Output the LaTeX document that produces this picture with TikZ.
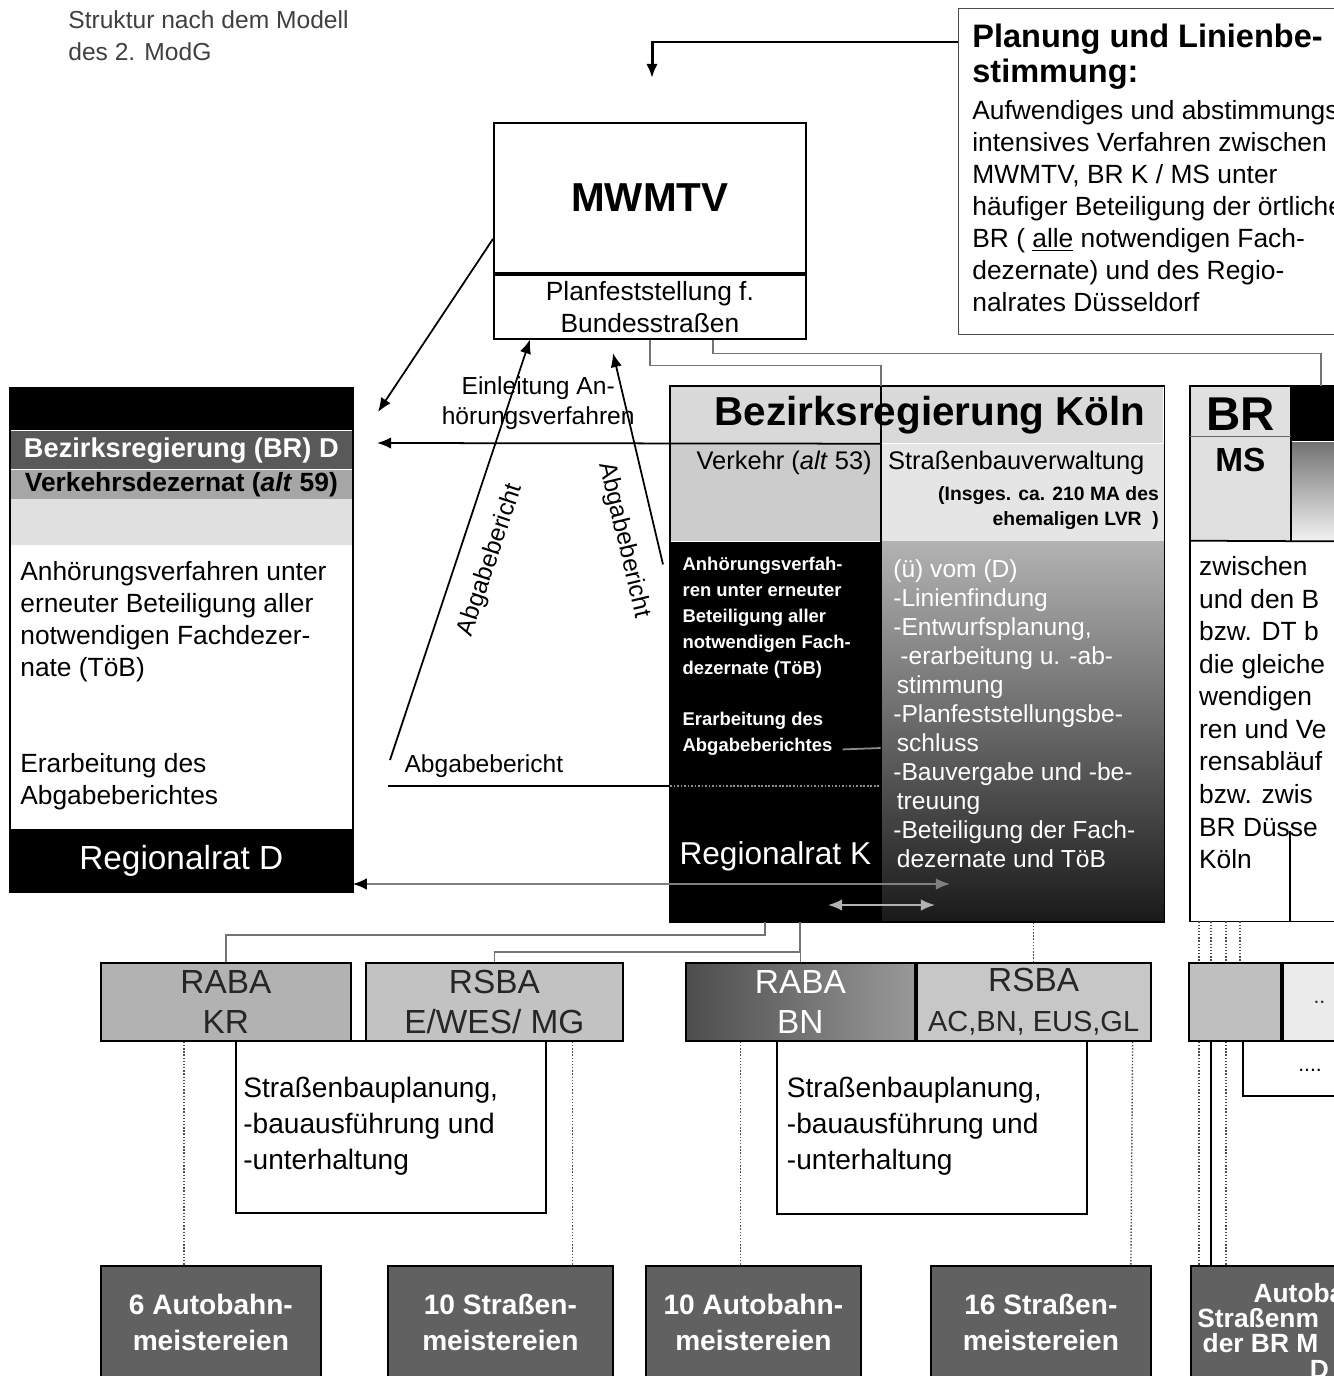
\documentclass[tikz,border=0pt]{standalone}
\usepackage{fontspec}
\setmainfont{Liberation Sans}
\usetikzlibrary{arrows.meta}
\usetikzlibrary{positioning}
\usetikzlibrary{calc}

\newcommand{\fsz}[2]{\fontsize{#1}{#2}\selectfont}

\begin{document}
\begin{tikzpicture}
    [x=0.02cm, y=-0.02cm,
     sz/.style 2 args={minimum width=#1*0.02cm, minimum height=#2*0.02cm},
     box/.style={rectangle, draw=black, line width=1pt, inner sep=0pt, anchor=north west},
     band/.style={rectangle, inner sep=0pt, anchor=north west},
     txt/.style={inner sep=0pt, anchor=north west, align=left},
     amt/.style={box, text=black!85, font=\fsz{19}{22.7}, align=center},
     mst/.style={box, fill=black!62, text=white, font=\bfseries\fsz{16}{20}, align=center},
     feed/.style={draw=black!55, line width=1pt},
     dot/.style={draw=black!70, densely dotted, line width=.8pt},
     flow/.style={line width=1pt, -{Latex[length=8pt, width=6.5pt]}},
     dbl/.style={line width=1pt, draw=black!50, {Latex[length=8pt, width=6.5pt]}-{Latex[length=8pt, width=6.5pt]}}]

    \useasboundingbox (0,0) rectangle (1334,1376);
    \clip (0,0) rectangle (1334,1376);

    \node[txt, text=black!75, font=\fsz{14}{18.2}] (modell) at (68,10) {Struktur nach dem Modell\\des 2. ModG};

    % ministry
    \node[box, sz={312}{150}, font=\bfseries\fsz{23}{26}] (mwmtv) at (493,122) {MWMTV};
    \node[box, sz={312}{64}, below=0pt of mwmtv, font=\fsz{15}{18.2}, align=center] (pfst) {Planfeststellung f.\\Bundesstraßen};

    % planning note
    \node[box, draw=black!70, line width=.6pt, sz={390}{326}] (plan) at (958,8) {};
    \node[txt, font=\bfseries\fsz{18.5}{19.5}] (planhd) at (972,24) {Planung und Linienbe-\\stimmung:};
    \node[txt, font=\fsz{15}{18.2}, below=6pt of planhd.south west, anchor=north west] (planbd)
        {Aufwendiges und abstimmungs-\\intensives Verfahren zwischen\\MWMTV, BR K / MS unter\\häufiger Beteiligung der örtlichen\\BR ( \underline{alle} notwendigen Fach-\\dezernate) und des Regio-\\nalrates Düsseldorf};
    \coordinate (mwtip) at (652,78);
    \draw[flow, line width=1.7pt] ($(plan.north west)+(0,34)$) -| (mwtip);

    % BR Duesseldorf
    \node[band, fill=black, sz={342}{42}] (bdtop) at (10,388) {};
    \node[band, fill=black!65, text=white, sz={342}{38}, below=0pt of bdtop, font=\bfseries\fsz{15.5}{18}] (bdhd) {Bezirksregierung (BR) D};
    \node[band, fill=black!35, sz={342}{29}, below=0pt of bdhd, font=\bfseries\fsz{15}{18}] (bdvk) {Verkehrsdezernat (\textit{alt} 59)};
    \node[band, fill=black!12, sz={342}{46}, below=0pt of bdvk] (bdlt) {};
    \node[band, sz={342}{282}, below=0pt of bdlt] (bdbody) {};
    \node[band, fill=black, text=white, sz={342}{63}, below=0pt of bdbody, font=\fsz{19}{22}] (rgd) {Regionalrat D};
    \draw[line width=1pt] (bdtop.north west) rectangle (rgd.south east);
    \node[txt, font=\fsz{15}{18.2}] (bdtxt) at (20,561) {Anhörungsverfahren unter\\erneuter Beteiligung aller\\notwendigen Fachdezer-\\nate (TöB)\\[36.4pt]Erarbeitung des\\Abgabeberichtes};

    % BR Koeln
    \node[band, fill=black!15, sz={493}{57}, font=\bfseries\fsz{23}{26}] (brk) at (670,386) {\hspace*{15pt}Bezirksregierung Köln};
    \node[band, fill=black!20, sz={210}{97}, below=0pt of brk.south west, anchor=north west] (vk) {};
    \node[band, fill=black!10, sz={283}{97}, right=0pt of vk] (sbv) {};
    \node[band, fill=black, sz={210}{380}, below=0pt of vk] (anh) {};
    \node[band, top color=black!30, bottom color=black!90, sz={283}{380}, below=0pt of sbv] (aufg) {};
    \draw[line width=1pt] (brk.north west) rectangle (aufg.south east);
    \node[txt, font=\fsz{14.5}{17}, below=4pt of vk.north, anchor=north, xshift=5pt] (vktxt) {Verkehr (\textit{alt} 53)};
    \node[txt, font=\fsz{14.5}{17}, below right=4pt and 4pt of sbv.north west] (sbvtxt) {Straßenbauverwaltung};
    \node[txt, font=\bfseries\fsz{11}{14.2}, align=right, below left=24pt and 3pt of sbv.north east, anchor=north east] (lvr) {(Insges. ca. 210 MA des\\ehemaligen LVR~~)};
    \node[txt, text=white, font=\bfseries\fsz{10.5}{14.7}, below right=9pt and 7pt of anh.north west] (anhtxt)
        {Anhörungsverfah-\\ren unter erneuter\\Beteiligung aller\\notwendigen Fach-\\dezernate (TöB)\\[14.7pt]Erarbeitung des\\Abgabeberichtes};
    \node[txt, text=white, font=\fsz{18}{21}, above=29pt of anh.south, anchor=south] (rgk) {Regionalrat K};
    \node[txt, text=white, font=\fsz{14}{16.5}, below right=10pt and 7pt of aufg.north west] (aufgtxt)
        {(ü) vom (D)\\-Linienfindung\\-Entwurfsplanung,\\\hspace*{4pt}-erarbeitung u. -ab-\\\hspace*{2pt}stimmung\\-Planfeststellungsbe-\\\hspace*{2pt}schluss\\-Bauvergabe und -be-\\\hspace*{2pt}treuung\\-Beteiligung der Fach-\\\hspace*{2pt}dezernate und TöB};
    \draw[line width=1pt] (brk.north -| vk.east) -- (anh.south east);

    % BR Muenster
    \node[band, fill=black!12, sz={100}{154}] (brms) at (1190,386) {};
    \node[band, fill=black, sz={60}{55}, right=0pt of brms.north east, anchor=north west] (msblk) {};
    \node[band, top color=black!55, bottom color=black!5, sz={60}{99}, below=0pt of msblk] (msshd) {};
    \node[band, sz={160}{380}, below=0pt of brms.south west, anchor=north west] (msbody) {};
    \draw[line width=1pt] (brms.north west) rectangle (msbody.south east);
    \draw[line width=1pt] (brms.north east) -- (brms.south east);
    \draw[line width=1pt] (brms.south west) -- (msshd.south east);
    \node[font=\bfseries\fsz{27}{30}, below=3pt of brms.north] (brtxt) {BR};
    \node[font=\bfseries\fsz{19}{22}, below=3pt of brtxt] (mstxt) {MS};
    \draw[draw=black!60, line width=.6pt] (brms.west |- brtxt.south) -- (brms.east |- brtxt.south);
    \node[txt, font=\fsz{15}{18.5}, below right=9pt and 5pt of msbody.north west] (msbdtxt)
        {zwischen\\und den B\\bzw. DT b\\die gleiche\\wendigen\\ren und Ve\\rensabläuf\\bzw. zwis\\BR Düsse\\Köln};
    \draw[line width=1pt] ($(msbody.south west)+(100,0)$) -- ++(0,-90);

    % connectors from the ministry
    \draw[feed] (pfst.south) -- ++(0,26) -| (brk.north -| vk.east);
    \draw[feed] ($(pfst.south)+(63,0)$) -- ++(0,14) -| (msblk.north);
    \coordinate (bdin) at (378,412);
    \draw[flow] ($(mwmtv.west)+(0,41)$) -- (bdin);
    \coordinate (bdhear) at (377,443);
    \draw[flow] (vk.north east) -- node[pos=.68, above=4pt, font=\fsz{14}{17}, align=center] (einl) {Einleitung An-\\hörungsverfahren} (bdhear);
    \coordinate (abgl) at (390,760);
    \draw[flow] (abgl) -- node[sloped, pos=.5, below=8pt, font=\fsz{14}{17}] (abg1) {Abgabebericht} ($(pfst.south west)+(37,0)$);
    \coordinate (pfup) at (613,353);
    \draw[flow] ($(anh.north west)+(-7,23)$) -- node[sloped, pos=.15, below=8pt, font=\fsz{14}{17}] (abg2) {Abgabebericht} (pfup);
    \coordinate (abgh) at (388,786);
    \draw[line width=1pt] (abgh) -- node[pos=.34, above=1pt, font=\fsz{14}{17}] (abg3) {Abgabebericht} (abgh -| anh.west);
    \draw[draw=black!45, densely dotted, line width=1pt] (abgh -| anh.west) -- (abgh -| anh.east);
    \draw[draw=black!45, line width=1pt] ($(anh.north east)+(-38,208)$) -- (anh.east |- 0,748);
    \coordinate (rowk) at (950,884);
    \draw[dbl, {Latex[length=8pt, width=6.5pt, black]}-{Latex[length=8pt, width=6.5pt]}] (rgd.east |- rowk) -- (rowk);
    \coordinate (sa) at (828,905);
    \coordinate (sb) at (935,905);
    \draw[dbl, draw=black!30] (sa) -- (sb);

    % road construction offices
    \node[amt, sz={250}{78}, fill=black!30] (rabakr) at (100,962) {RABA\\KR};
    \node[amt, sz={257}{78}, fill=black!24] (rsbae) at (365,962) {RSBA\\E/WES/ MG};
    \node[amt, sz={229}{78}, left color=black!70, right color=black!40, text=white] (rababn) at (685,962) {RABA\\BN};
    \node[amt, sz={234}{78}, fill=black!22, right=0pt of rababn] (rsbaac) {RSBA\\{\fsz{16.5}{19}AC,BN, EUS,GL}};
    \node[amt, sz={92}{78}, fill=black!25] (rabams) at (1188,962) {};
    \node[amt, sz={70}{78}, fill=black!8, right=0pt of rabams, font=\fsz{12}{14}] (rsbams) {\,..};

    \draw[feed] ($(anh.south)+(-10,0)$) -- ++(0,13) -| (rabakr.north);
    \draw[feed] ($(anh.south)+(25,0)$) -- ++(0,30) -| (rsbae.north);
    \draw[feed] (rababn.north) -- (rababn.north |- anh.south);
    \draw[dot] (rsbaac.north) -- (rsbaac.north |- aufg.south);
    \foreach \dx in {9,21,36,50}
        \draw[dot] ($(msbody.south west)+(\dx,0)$) -- ($(rabams.north west)+(\dx+2,0)$);

    \node[box, sz={310}{172}] (sbp1) at (235,1040) {};
    \node[txt, font=\fsz{16}{20.5}, below right=21pt and 4.5pt of sbp1.north west] (sbp1txt) {Straßenbauplanung,\\-bauausführung und\\-unterhaltung};
    \node[box, sz={310}{173}] (sbp2) at (776,1040) {};
    \node[txt, font=\fsz{16}{20.5}, below right=21pt and 6pt of sbp2.north west] (sbp2txt) {Straßenbauplanung,\\-bauausführung und\\-unterhaltung};
    \node[box, sz={110}{55}] (sbp3) at (1242,1040) {};
    \node[font=\fsz{12}{14}] (sbp3txt) at (1310,1070) {....};

    % maintenance depots
    \node[mst, sz={220}{113}] (am1) at (100,1265) {6 Autobahn-\\meistereien};
    \node[mst, sz={225}{113}] (sm1) at (387,1265) {10 Straßen-\\meistereien};
    \node[mst, sz={215}{113}] (am2) at (645,1265) {10 Autobahn-\\meistereien};
    \node[mst, sz={220}{113}] (sm2) at (930,1265) {16 Straßen-\\meistereien};
    \node[mst, sz={160}{113}] (ms3) at (1190,1265) {};
    \node[txt, text=white, font=\bfseries\fsz{15}{14.5}, below right=10pt and 4pt of ms3.north west] (ms3txt)
        {\hspace*{32pt}Autoba\\Straßenm\\\hspace*{3pt}der BR M\\\hspace*{64pt}D};

    \draw[dot] ($(rabakr.south)+(-42,0)$) -- ($(am1.north)+(-27,0)$);
    \draw[dot] ($(rsbae.south)+(78,0)$) -- ($(sm1.north)+(72,0)$);
    \draw[dot] ($(rababn.south)+(-60,0)$) -- ($(am2.north)+(-13,0)$);
    \draw[dot] ($(rsbaac.south)+(99,0)$) -- ($(sm2.north)+(90,0)$);
    \draw[dot] ($(rabams.south west)+(11,0)$) -- ($(ms3.north west)+(9,0)$);
    \draw[line width=.8pt] ($(rabams.south west)+(23,0)$) -- ($(ms3.north west)+(21,0)$);
    \draw[dot] ($(rabams.south west)+(38,0)$) -- ($(ms3.north west)+(36,0)$);
\end{tikzpicture}
\end{document}
